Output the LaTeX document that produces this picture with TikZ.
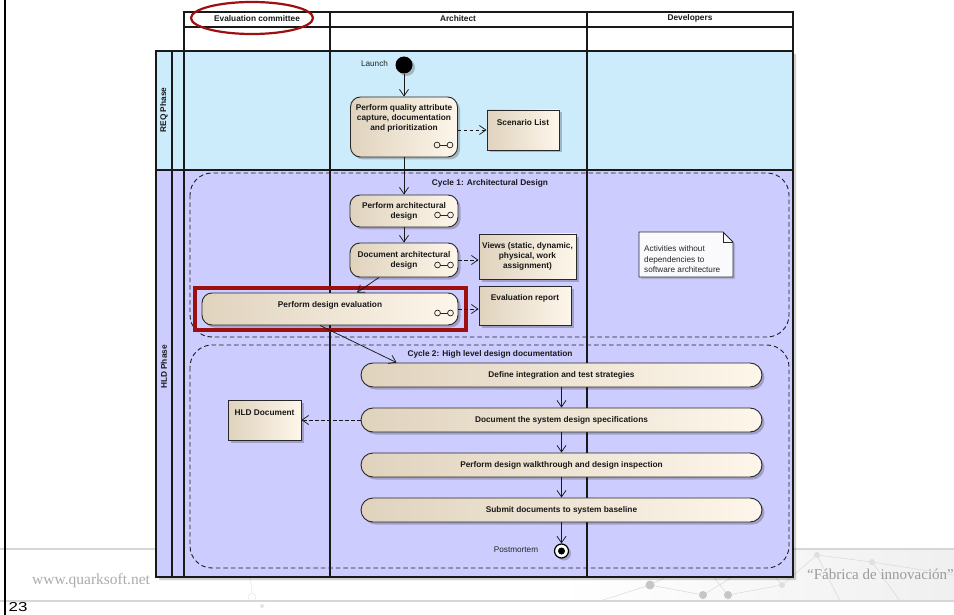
\documentclass[tikz,border=0pt]{standalone}
\usepackage{fontspec}
\setmainfont{Liberation Sans}
\newfontfamily\footserif{Liberation Serif}
\usetikzlibrary{arrows.meta,shadows,calc}

\definecolor{reqfill}{RGB}{204,236,252}
\definecolor{hldfill}{RGB}{204,204,255}
\definecolor{beigeL}{RGB}{224,211,190}
\definecolor{beigeR}{RGB}{253,246,234}
\definecolor{edge}{RGB}{40,40,40}
\definecolor{hilite}{RGB}{158,16,16}
\definecolor{notefill}{RGB}{250,250,253}
\definecolor{footgray}{RGB}{172,172,172}
\definecolor{rulegray}{RGB}{214,214,214}

\tikzset{
  lbl/.style={font=\fontsize{8.3}{10}\selectfont\bfseries, text=black!90, align=center, inner sep=0pt},
  plain/.style={font=\fontsize{8.2}{10.5}\selectfont, text=black!85, inner sep=0pt},
  boxshadow/.style={drop shadow={shadow xshift=2.5pt, shadow yshift=-2.5pt, fill=black, opacity=0.22}},
  activity/.style={draw=edge, line width=0.9pt, rounded corners=10pt, left color=beigeL, right color=beigeR, boxshadow, inner sep=0pt},
  pill/.style={activity, rounded corners=12pt},
  artifact/.style={draw=edge, line width=0.9pt, left color=beigeL, right color=beigeR, boxshadow, inner sep=0pt},
  flow/.style={draw=black!90, line width=0.75pt, -{Straight Barb[length=6.5pt,width=9pt]}},
  depend/.style={flow, dash pattern=on 3.5pt off 2.5pt},
  region/.style={draw=black!88, line width=0.9pt, dash pattern=on 4.5pt off 3pt, rounded corners=22pt},
  laneline/.style={draw=black!90, line width=1.1pt},
  rake/.pic={
    \draw[line width=0.7pt, black!85] (-6.5,0) circle (2.9pt) (6.5,0) circle (2.9pt);
    \draw[line width=0.7pt, black!85] (-3.6,0) -- (3.6,0);
  },
}

\begin{document}
\begin{tikzpicture}[x=1pt, y=-1pt]
\clip (0,0) rectangle (954,615);
\fill[white] (0,0) rectangle (954,615);

% ---- slide footer -------------------------------------------------------
\shade[left color=white, right color=gray!12] (560,549) rectangle (954,601);
\begin{scope}[gray!30, line width=0.5pt]
  \draw (600,601) -- (650,585) -- (703,595) (650,585) -- (700,560) -- (728,595)
        (728,595) -- (782,585) -- (817,555) -- (872,562) -- (954,575)
        (782,585) -- (760,560) -- (703,595) (872,562) -- (900,601) (817,555) -- (840,601);
  \fill[gray!45] (650,585) circle (4.5pt) (703,595) circle (4pt) (728,595) circle (4pt);
  \fill[gray!25] (782,585) circle (3pt) (817,555) circle (3pt) (872,562) circle (3pt) (760,560) circle (2.5pt);
\end{scope}
\begin{scope}[gray!18, line width=0.5pt]
  \draw (248,570) circle (5pt) (276,560) circle (6pt) (300,567) circle (5pt) (252,597) circle (4pt);
  \draw (253,570) -- (270,562) (282,561) -- (295,566) (250,575) -- (252,593);
  \fill[gray!20] (320,566) circle (2pt) (262,606) circle (2pt);
\end{scope}
\draw[rulegray, line width=1.2pt] (0,549) -- (954,549);
\draw[rulegray, line width=1.2pt] (0,601) -- (954,601);
\draw[black, line width=2.4pt] (5,0) -- (5,615);
\node[font=\footserif\fontsize{15.5}{15.5}\selectfont, text=footgray, anchor=base west, inner sep=0pt]
  (site) at (32,584) {www.quarksoft.net};
\node[font=\footserif\fontsize{15}{15}\selectfont, text=footgray!90!black, anchor=base west, inner sep=0pt]
  (motto) at (807,579) {“Fábrica de innovación”};
\node[font=\fontsize{13}{13}\selectfont, anchor=base west, inner sep=0pt] (page) at (8.5,611) {\scalebox{1.3}[1]{23}};

% ---- swimlanes ----------------------------------------------------------
\fill[white] (184,12) rectangle (793,51);
\fill[reqfill] (156,51) rectangle (793,170);
\fill[hldfill] (156,170) rectangle (793,577);
\fill[black, opacity=0.18] (159,577) rectangle (796,580) (793,54) rectangle (796,577);
\draw[laneline] (184,12) rectangle (793,51);
\draw[laneline] (184,27) -- (793,27);
\draw[laneline] (156,51) rectangle (793,577);
\draw[laneline] (156,170) -- (793,170);
\draw[laneline] (172,51) -- (172,577);
\draw[laneline] (184,51) -- (184,577);
\draw[laneline] (330,12) -- (330,577);
\draw[laneline] (587,12) -- (587,577);

\node[lbl] (hEval) at (257,18.5) {Evaluation committee};
\node[lbl] (hArch) at (458,18.5) {Architect};
\node[lbl] (hDev)  at (690,18.5) {Developers};
\node[lbl, rotate=90] (pReq) at (164,110) {REQ Phase};
\node[lbl, rotate=90] (pHld) at (164,367) {HLD Phase};

% ---- iteration regions ---------------------------------------------------
\draw[region] (190,173) rectangle (789,337);
\draw[region] (190,345) rectangle (789,568);
\node[lbl] (cyc1) at (490,183) {Cycle 1: Architectural Design};
\node[lbl] (cyc2) at (490,354) {Cycle 2: High level design documentation};

% ---- requirements phase --------------------------------------------------
\node[circle, fill=black, minimum size=17pt, inner sep=0pt, boxshadow] (launch) at (404,65) {};
\node[plain] (launchT) at (374.5,64) {Launch};

\node[activity, minimum width=107pt, minimum height=60pt] (aCapture) at (404,127) {};
\node[lbl] (tCapture) at (404,118.5) {Perform quality attribute\\capture, documentation\\and prioritization};
\pic at (443.5,145) {rake};

\node[artifact, minimum width=72pt, minimum height=40pt] (sList) at (523,130) {};
\node[lbl] (tList) at (523,123) {Scenario List};

% ---- cycle 1 -------------------------------------------------------------
\node[activity, minimum width=108pt, minimum height=32pt, lbl] (aDesign) at (404,211) {Perform architectural\\design};
\pic at (444,215) {rake};
\node[activity, minimum width=108pt, minimum height=34pt, lbl] (aDoc) at (404,260) {Document architectural\\design};
\pic at (444,265) {rake};
\node[activity, minimum width=256pt, minimum height=32pt] (aEval) at (330,309) {};
\node[lbl] (tEval) at (330,305) {Perform design evaluation};
\pic at (444,313) {rake};

\node[artifact, minimum width=97pt, minimum height=45pt, lbl] (vViews) at (527.5,256.5) {Views (static, dynamic,\\physical, work\\assignment)};
\node[artifact, minimum width=92pt, minimum height=39pt] (eRep) at (525,305.5) {};
\node[lbl] (tRep) at (525,298) {Evaluation report};

\draw[edge, line width=0.9pt, fill=notefill, drop shadow={shadow xshift=2pt, shadow yshift=-2pt, fill=black, opacity=0.15}]
  (639,232) -- (723,232) -- (733,242) -- (733,277) -- (639,277) -- cycle;
\draw[edge, line width=0.8pt] (723,232) -- (723,242) -- (733,242);
\node[plain, anchor=west, align=left] (note) at (644,259.5) {Activities without\\dependencies to\\software architecture};

\draw[hilite, line width=3.6pt] (195,288) rectangle (466,330);

% ---- cycle 2 -------------------------------------------------------------
\node[pill, minimum width=401pt, minimum height=24pt, lbl] (aDefine) at (561.5,375) {Define integration and test strategies};
\node[pill, minimum width=401pt, minimum height=24pt, lbl] (aSpec)   at (561.5,420) {Document the system design specifications};
\node[pill, minimum width=401pt, minimum height=24pt, lbl] (aWalk)   at (561.5,465) {Perform design walkthrough and design inspection};
\node[pill, minimum width=401pt, minimum height=24pt, lbl] (aSubmit) at (561.5,510) {Submit documents to system baseline};

\node[artifact, minimum width=73pt, minimum height=40pt] (hldDoc) at (264.5,420) {};
\node[lbl] (tHld) at (264.5,413) {HLD Document};

\node[circle, draw=black, line width=1.2pt, fill=white, minimum size=14pt, inner sep=0pt, boxshadow] (final) at (561.5,551) {};
\node[circle, fill=black, minimum size=7pt, inner sep=0pt] (finalDot) at (final.center) {};
\node[plain] (finalT) at (516,550) {Postmortem};

% ---- control flows -------------------------------------------------------
\draw[flow] (launch) -- (aCapture.north);
\draw[flow] (aCapture.south) -- (aDesign.north);
\draw[flow] (aDesign.south) -- (aDoc.north);
\draw[flow] ($(aDoc.south)+(-25,0)$) -- ($(aEval.north)+(27,0)$);
\draw[flow] ($(aEval.south)+(-10,0)$) -- ($(aDefine.north west)+(36,0)$);
\draw[flow] (aDefine.south) -- (aSpec.north);
\draw[flow] (aSpec.south) -- (aWalk.north);
\draw[flow] (aWalk.south) -- (aSubmit.north);
\draw[flow] (aSubmit.south) -- (final.north);

% ---- dependencies --------------------------------------------------------
\draw[depend] (aCapture.east |- sList.west) -- (sList.west);
\draw[depend] (aDoc.east) -- (aDoc.east -| vViews.west);
\draw[depend] (aEval.east) -- (aEval.east -| eRep.west);
\draw[depend] (aSpec.west) -- (hldDoc.east);

% ---- highlight on the committee lane ------------------------------------
\draw[hilite, line width=2.2pt] (252,18) ellipse [x radius=61pt, y radius=16pt];
\end{tikzpicture}
\end{document}
